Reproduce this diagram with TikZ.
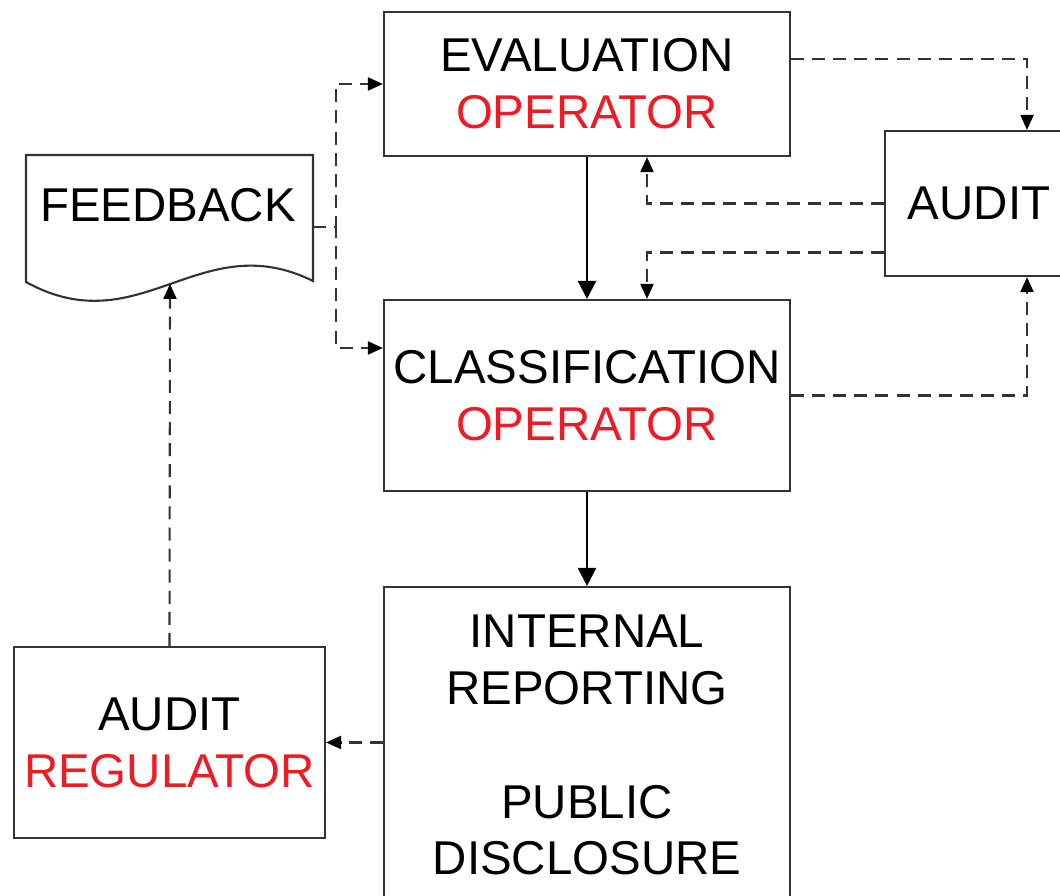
\documentclass[tikz,border=0pt]{standalone}
\usepackage{fontspec}
\setmainfont{Liberation Sans}
\usepackage{tikz}
\usetikzlibrary{arrows.meta,positioning,calc}
\usepackage{xcolor}
\definecolor{OpRed}{HTML}{ED1C24}
\definecolor{LineGray}{HTML}{333333}
\tikzset{
    % Base box style
    basebox/.style={
        draw=LineGray,
        fill=white,
        line width=0.6pt,
        inner sep=1pt,
        align=center,
        font=\fontsize{13.5}{16.2}\selectfont
    },
    % Operator boxes in the middle column
    opbox/.style={
        basebox,
        minimum width=4.06cm
    },
    % Solid flow arrow
    flowarrow/.style={
        -{Triangle[length=1.8mm,width=1.8mm]},
        line width=0.7pt,
        draw=black
    },
    % Dashed control arrow
    dasharrow/.style={
        -{Triangle[length=1.5mm,width=1.3mm,color=black]},
        line width=0.6pt,
        draw=LineGray,
        dash pattern=on 3.7pt off 2.3pt
    }
}
\begin{document}
\begin{tikzpicture}
    \useasboundingbox (0,0) rectangle (10.6,-8.96);
    \clip (0,0) rectangle (10.6,-8.96);

    % main column
    \node[opbox,minimum height=1.44cm] (eval) at (5.87,-0.84) {EVALUATION\\\textcolor{OpRed}{OPERATOR}};
    \node[opbox,minimum height=1.91cm] (class) at (5.87,-3.955) {CLASSIFICATION\\\textcolor{OpRed}{OPERATOR}};
    \node[opbox,minimum height=3.16cm] (report) at (5.87,-7.45) {INTERNAL\\REPORTING\\[16.2pt]PUBLIC\\DISCLOSURE};

    % side boxes
    \node[basebox,minimum width=1.88cm,minimum height=1.45cm] (audit) at (9.79,-2.035) {AUDIT};
    \node[basebox,minimum width=3.11cm,minimum height=1.91cm] (reg) at (1.695,-7.425) {AUDIT\\\textcolor{OpRed}{REGULATOR}};

    % feedback document
    \draw[LineGray,line width=0.6pt,fill=white] (0.26,-1.55) -- (3.13,-1.55) -- (3.13,-2.81)
        .. controls (2.00,-2.25) and (1.40,-3.45) .. (0.26,-2.82) -- cycle;
    \node[font=\fontsize{13.5}{16.2}\selectfont] (fb) at (1.68,-2.05) {FEEDBACK};
    \coordinate (fbout) at (3.13,-2.27);
    \coordinate (fbin) at (1.70,-2.84);

    % solid flow
    \draw[flowarrow] (eval.south) -- (class.north);
    \draw[flowarrow] (class.south) -- (report.north);

    % feedback into the operators
    \draw[dasharrow] (fbout) -- ++(0.23,0) |- (eval.west);
    \draw[dasharrow] (fbout) -- ++(0.23,0) |- ([yshift=0.475cm]class.west);

    % audit loop
    \draw[dasharrow] ([yshift=0.25cm]eval.east) -| ([xshift=0.48cm]audit.north);
    \draw[dasharrow] (class.east) -| ([xshift=0.48cm]audit.south);
    \draw[dasharrow] (audit.west) -| ([xshift=0.6cm]eval.south);
    \draw[dasharrow] ([yshift=-0.49cm]audit.west) -| ([xshift=0.6cm]class.north);

    % regulator
    \draw[dasharrow] (reg.east -| report.west) -- (reg.east);
    \draw[dasharrow] (reg.north) -- (fbin);
\end{tikzpicture}
\end{document}
